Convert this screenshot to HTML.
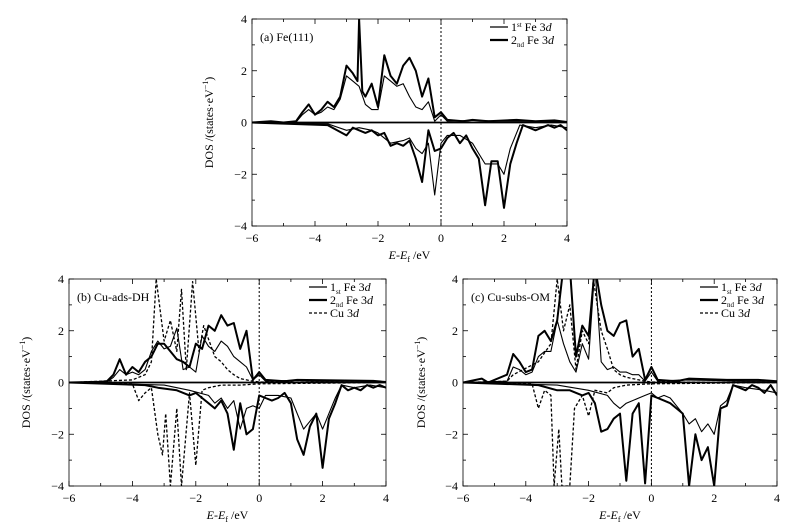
<!DOCTYPE html>
<html><head><meta charset="utf-8"><style>
body{margin:0;background:#fff}
svg{display:block;font-family:"Liberation Serif",serif}
</style></head><body>
<svg id="fig" width="794" height="529" viewBox="0 0 794 529"></svg>
<script>
const xTicks=[-6,-4,-2,0,2,4];
const yTicks=[-4,-2,0,2,4];
// Panel (a) Fe(111)
const aFe1Up=[[-6,0],[-4.6,0.02],[-4.4,0.3],[-4.2,0.5],[-4,0.3],[-3.8,0.4],[-3.6,0.6],[-3.4,0.5],[-3.2,0.9],[-3,1.8],[-2.8,1.6],[-2.6,1.4],[-2.4,0.7],[-2.2,0.5],[-2,0.5],[-1.8,1.8],[-1.6,1.6],[-1.4,1.4],[-1.2,1.5],[-1,1.0],[-0.8,0.6],[-0.6,0.5],[-0.4,0.8],[-0.2,0.05],[0,0.3],[0.2,0.05],[1,0.08],[2,0.05],[3,0.05],[4,0.03]];
const aFe2Up=[[-6,0],[-5.4,0.05],[-5,0],[-4.6,0.05],[-4.4,0.4],[-4.2,0.7],[-4,0.3],[-3.8,0.5],[-3.6,0.8],[-3.4,0.6],[-3.2,1.0],[-3,2.2],[-2.8,1.9],[-2.65,1.6],[-2.6,4.0],[-2.5,1.2],[-2.4,1.0],[-2.2,1.5],[-2,0.6],[-1.8,2.6],[-1.6,1.8],[-1.4,1.5],[-1.2,2.2],[-1,2.5],[-0.8,2.0],[-0.6,1.0],[-0.4,1.7],[-0.2,0.2],[0,0.4],[0.2,0.1],[0.7,0.05],[1,0.1],[1.5,0.05],[2.4,0.1],[3,0.05],[3.6,0.08],[4,0.02]];
const aFe1Dn=[[-6,0],[-3.6,-0.05],[-3,-0.3],[-2.6,-0.2],[-2.2,-0.3],[-2,-0.4],[-1.6,-0.8],[-1.2,-0.7],[-1,-0.6],[-0.8,-1.0],[-0.6,-1.2],[-0.4,-0.8],[-0.2,-2.8],[0,-0.8],[0.2,-0.5],[0.6,-0.5],[1,-0.8],[1.2,-1.2],[1.4,-1.6],[1.8,-1.6],[2,-2.0],[2.2,-1.0],[2.5,-0.1],[3,-0.2],[3.5,-0.1],[4,-0.2]];
const aFe2Dn=[[-6,0],[-3.6,-0.1],[-3,-0.5],[-2.8,-0.2],[-2.6,-0.3],[-2.4,-0.4],[-2.2,-0.3],[-2,-0.5],[-1.8,-0.4],[-1.6,-0.9],[-1.4,-0.8],[-1.2,-0.9],[-1,-0.7],[-0.8,-1.4],[-0.6,-2.3],[-0.4,-0.3],[-0.2,-1.1],[0,-1.0],[0.2,-0.6],[0.4,-0.4],[0.6,-0.8],[0.8,-0.5],[1,-1.0],[1.2,-1.4],[1.4,-3.2],[1.6,-1.5],[1.8,-1.5],[2,-3.3],[2.2,-1.6],[2.4,-0.8],[2.6,-0.1],[2.8,-0.2],[3,-0.3],[3.2,-0.2],[3.4,-0.1],[3.6,-0.2],[3.8,-0.1],[4,-0.3]];
// Panel (b) Cu-ads-DH
const bFe1Up=[[-6,0],[-4.8,0.02],[-4.6,0.2],[-4.4,0.5],[-4.2,0.3],[-4,0.4],[-3.8,0.3],[-3.6,0.5],[-3.4,1.2],[-3.2,1.6],[-3,1.3],[-2.8,1.4],[-2.6,2.1],[-2.4,0.5],[-2.2,0.6],[-2,0.4],[-1.8,1.8],[-1.6,1.4],[-1.4,1.2],[-1.2,1.6],[-1,1.4],[-0.8,1.0],[-0.6,0.8],[-0.4,0.6],[-0.2,0.1],[0,0.3],[0.2,0.05],[1,0.08],[2,0.05],[3,0.05],[4,0.03]];
const bFe2Up=[[-6,0],[-5,0.03],[-4.8,0.05],[-4.6,0.3],[-4.4,0.9],[-4.2,0.3],[-4,0.6],[-3.8,0.4],[-3.6,0.8],[-3.4,1.0],[-3.2,1.5],[-3,1.5],[-2.8,1.2],[-2.6,0.9],[-2.4,0.8],[-2.2,0.6],[-2,1.5],[-1.8,1.3],[-1.6,2.2],[-1.4,2.0],[-1.2,2.6],[-1,2.2],[-0.8,2.3],[-0.6,1.3],[-0.4,2.0],[-0.2,0.1],[0,0.4],[0.2,0.1],[0.8,0.05],[1.2,0.1],[2.4,0.08],[3.6,0.06],[4,0.02]];
const bCuUp=[[-6,0],[-4,0.1],[-3.6,0.3],[-3.4,0.8],[-3.25,4.0],[-3,1.6],[-2.8,2.4],[-2.6,1.2],[-2.45,3.6],[-2.3,0.5],[-2.1,3.9],[-1.9,1.2],[-1.75,2.2],[-1.4,1.0],[-1.2,0.8],[-1,0.5],[-0.8,0.3],[-0.6,0.15],[-0.4,0.1],[-0.2,0.05],[0,0.02],[4,0]];
const bFe1Dn=[[-6,0],[-3,-0.1],[-2.2,-0.3],[-1.6,-0.5],[-1.4,-0.8],[-1.2,-0.6],[-1,-1.0],[-0.8,-0.7],[-0.6,-1.8],[-0.4,-1.0],[-0.2,-0.9],[0,-1.0],[0.2,-0.5],[0.6,-0.5],[1,-0.6],[1.2,-1.2],[1.4,-1.8],[1.6,-1.5],[1.8,-1.2],[2,-1.8],[2.2,-1.2],[2.4,-0.6],[2.6,-0.1],[3,-0.2],[3.5,-0.1],[4,-0.2]];
const bFe2Dn=[[-6,0],[-3.6,-0.1],[-3.2,-0.2],[-2.6,-0.3],[-2.2,-0.5],[-2,-0.4],[-1.8,-0.6],[-1.6,-0.8],[-1.4,-1.0],[-1.2,-0.7],[-1,-1.2],[-0.8,-2.6],[-0.6,-0.8],[-0.4,-2.0],[-0.2,-1.8],[0,-0.5],[0.2,-0.6],[0.4,-0.7],[0.6,-0.6],[0.8,-0.4],[1,-0.8],[1.2,-2.2],[1.4,-2.8],[1.6,-1.7],[1.8,-1.2],[2,-3.3],[2.2,-1.4],[2.4,-0.8],[2.6,-0.1],[2.8,-0.3],[3,-0.2],[3.2,-0.3],[3.4,-0.1],[3.6,-0.2],[3.8,-0.1],[4,-0.2]];
const bCuDn=[[-6,0],[-4,-0.05],[-3.8,-0.7],[-3.6,-0.4],[-3.4,-0.2],[-3.2,-2.0],[-3.05,-2.8],[-2.95,-1.2],[-2.8,-4.0],[-2.6,-1.0],[-2.45,-4.0],[-2.2,-0.4],[-2,-3.2],[-1.8,-0.3],[-1.6,-0.2],[-1.4,-0.15],[-1.2,-0.1],[-0.6,-0.1],[0,-0.05],[4,0]];
// Panel (c) Cu-subs-OM
const cFe1Up=[[-6,0],[-4.6,0.05],[-4.4,0.6],[-4.2,0.5],[-4,0.3],[-3.8,0.4],[-3.6,1.0],[-3.4,1.2],[-3.2,1.2],[-3,2.4],[-2.8,1.5],[-2.6,0.8],[-2.4,0.4],[-2.2,1.5],[-2,0.9],[-1.8,4.5],[-1.6,0.8],[-1.4,0.5],[-1.2,0.6],[-1,0.4],[-0.8,0.4],[-0.6,0.3],[-0.4,0.3],[-0.2,0.05],[0,0.4],[0.2,0.05],[1,0.1],[2,0.08],[3,0.05],[4,0.05]];
const cFe2Up=[[-6,0],[-5.4,0.15],[-5.2,0],[-4.6,0.3],[-4.4,1.1],[-4.2,0.8],[-4,0.4],[-3.8,0.5],[-3.6,1.8],[-3.4,2.0],[-3.2,1.6],[-3,2.4],[-2.8,4.5],[-2.6,4.5],[-2.4,1.0],[-2.2,2.2],[-2,1.8],[-1.8,4.5],[-1.6,3.0],[-1.4,2.0],[-1.2,1.8],[-1,2.3],[-0.8,2.4],[-0.6,1.0],[-0.4,1.3],[-0.2,0.1],[0,0.6],[0.2,0.1],[0.8,0.05],[1.2,0.15],[2.4,0.1],[3.4,0.1],[4,0.05]];
const cCuUp=[[-6,0],[-4.6,0.05],[-4.4,0.3],[-3.6,0.8],[-3.2,1.5],[-3,4.0],[-2.8,2.0],[-2.6,3.0],[-2.4,0.5],[-2.2,2.0],[-2,1.5],[-1.85,4.0],[-1.6,2.0],[-1.4,1.3],[-1.2,0.5],[-1,0.3],[-0.8,0.2],[-0.6,0.15],[-0.4,0.1],[-0.2,0.05],[0,0.02],[4,0]];
const cFe1Dn=[[-6,0],[-3,-0.1],[-2,-0.3],[-1.4,-0.5],[-1.2,-0.8],[-1,-1.0],[-0.8,-0.8],[-0.6,-0.7],[-0.4,-0.6],[-0.2,-0.5],[0,-0.4],[0.2,-0.6],[0.4,-0.5],[0.6,-0.6],[0.8,-0.9],[1,-1.2],[1.2,-1.6],[1.4,-1.4],[1.6,-1.9],[1.8,-1.6],[2,-2.0],[2.2,-0.9],[2.4,-0.7],[2.6,-0.1],[3,-0.2],[3.6,-0.3],[4,-0.4]];
const cFe2Dn=[[-6,0],[-3.6,-0.1],[-3,-0.3],[-2.6,-0.3],[-2.2,-0.5],[-2,-0.4],[-1.8,-0.8],[-1.6,-1.9],[-1.4,-1.8],[-1.2,-1.4],[-1,-1.2],[-0.8,-3.8],[-0.6,-1.2],[-0.4,-0.8],[-0.2,-3.9],[0,-0.5],[0.2,-0.6],[0.4,-0.7],[0.6,-0.8],[0.8,-1.0],[1,-1.2],[1.2,-4.0],[1.4,-2.0],[1.6,-3.0],[1.8,-2.5],[2,-4.0],[2.2,-1.0],[2.4,-0.9],[2.6,-0.1],[2.8,-0.2],[3,-0.3],[3.2,-0.1],[3.4,-0.2],[3.6,-0.4],[3.8,-0.1],[4,-0.5]];
const cCuDn=[[-6,0],[-3.8,-0.05],[-3.6,-1.0],[-3.4,-0.3],[-3.2,-0.5],[-3.1,-4.0],[-2.95,-1.8],[-2.85,-4.0],[-2.6,-4.0],[-2.45,-1.0],[-2.2,-0.5],[-2,-1.3],[-1.8,-0.3],[-1.4,-0.4],[-1.2,-0.2],[-0.8,-0.1],[0,-0.05],[4,0]];

const panels=[
 {id:'a',label:'(a)  Fe(111)',x0:252,x1:567,y0:19,y1:226,ytx:213,fe1:[aFe1Up,aFe1Dn],fe2:[aFe2Up,aFe2Dn],cu:null},
 {id:'b',label:'(b) Cu-ads-DH',x0:69,x1:386,y0:279,y1:486,ytx:30,fe1:[bFe1Up,bFe1Dn],fe2:[bFe2Up,bFe2Dn],cu:[bCuUp,bCuDn]},
 {id:'c',label:'(c) Cu-subs-OM',x0:463,x1:777,y0:279,y1:486,ytx:425,fe1:[cFe1Up,cFe1Dn],fe2:[cFe2Up,cFe2Dn],cu:[cCuUp,cCuDn]}
];
const NS='http://www.w3.org/2000/svg';
const svg=document.getElementById('fig');
function mk(tag,attrs,parent,txt){const e=document.createElementNS(NS,tag);for(const k in attrs)e.setAttribute(k,attrs[k]);if(txt!==undefined)e.textContent=txt;(parent||svg).appendChild(e);return e;}
panels.forEach(p=>{
 const g=mk('g',{});
 
 
 const sx=v=>p.x0+(v+6)/10*(p.x1-p.x0);
 const sy=v=>p.y0+(4-v)/8*(p.y1-p.y0);
 const defs=mk('defs',{},g);
 const cp=mk('clipPath',{id:'clip'+p.id},defs);
 mk('rect',{x:p.x0,y:p.y0,width:p.x1-p.x0,height:p.y1-p.y0},cp);
 const frame=mk('rect',{x:p.x0,y:p.y0,width:p.x1-p.x0,height:p.y1-p.y0,fill:'none',stroke:'#000','stroke-width':0.8},g);
 
 
 for(let v=-6;v<=4;v++){const L=v%2===0?5:3;mk('line',{x1:sx(v),x2:sx(v),y1:p.y1,y2:p.y1-L,stroke:'#000','stroke-width':0.8},g);mk('line',{x1:sx(v),x2:sx(v),y1:p.y0,y2:p.y0+L,stroke:'#000','stroke-width':0.8},g);}
 for(let v=-4;v<=4;v++){const L=v%2===0?5:3;mk('line',{x1:p.x0,x2:p.x0+L,y1:sy(v),y2:sy(v),stroke:'#000','stroke-width':0.8},g);mk('line',{x1:p.x1,x2:p.x1-L,y1:sy(v),y2:sy(v),stroke:'#000','stroke-width':0.8},g);}
 xTicks.forEach(v=>{const t=mk('text',{x:sx(v),y:p.y1+16,'text-anchor':'middle','font-size':12},g,v<0?'\u2212'+(-v):String(v));});
 yTicks.forEach(v=>{const t=mk('text',{x:p.x0-5,y:sy(v)+4,'text-anchor':'end','font-size':12},g,v<0?'\u2212'+(-v):String(v));});
 const xt=mk('text',{x:(p.x0+p.x1)/2,y:p.y1+33,'text-anchor':'middle','font-size':12},g);
 
 xt.innerHTML='<tspan font-style="italic">E</tspan>-<tspan font-style="italic">E</tspan><tspan font-size="8" dy="3">f</tspan><tspan dy="-3"> /eV</tspan>';
 const yt=mk('text',{x:0,y:0,'text-anchor':'middle','font-size':12,transform:`translate(${p.ytx},${(p.y0+p.y1)/2}) rotate(-90)`},g);
 
 yt.innerHTML='DOS /(states·eV<tspan font-size="8" dy="-5">−1</tspan><tspan dy="5">)</tspan>';
 const lb=mk('text',{x:p.x0+8,y:p.y0+22,'font-size':12},g,p.label);
 
 const cg=mk('g',{'clip-path':`url(#clip${p.id})`},g);
 const z=mk('line',{x1:p.x0,x2:p.x1,y1:sy(0),y2:sy(0),stroke:'#000','stroke-width':1.8},cg);
 
 const fl=mk('line',{x1:sx(0),x2:sx(0),y1:p.y0,y2:p.y1,stroke:'#000','stroke-width':1,'stroke-dasharray':'2,2'},cg);
 
 const draw=(arr,w,dash,name)=>{const d=arr.map((q,i)=>(i?'L':'M')+sx(q[0]).toFixed(1)+','+sy(q[1]).toFixed(1)).join('');const e=mk('path',{d:d,fill:'none',stroke:'#000','stroke-width':w,'stroke-dasharray':dash||'none','stroke-linejoin':'round'},cg);};
 if(p.cu){draw(p.cu[0],1.3,'3,2','cu-3d-up');draw(p.cu[1],1.3,'3,2','cu-3d-down');}
 draw(p.fe1[0],1.1,null,'fe1-3d-up');draw(p.fe1[1],1.1,null,'fe1-3d-down');
 draw(p.fe2[0],2,null,'fe2-3d-up');draw(p.fe2[1],2,null,'fe2-3d-down');
 const lx=p.x1-77;const items=[['1','st',1.3,null],['2','nd',2.2,null]];if(p.cu)items.push(['Cu','',1.3,'3,2']);
 items.forEach((it,i)=>{const y=p.y0+8+i*13;const lg=mk('g',{},g);
  mk('line',{x1:lx,x2:lx+18,y1:y,y2:y,stroke:'#000','stroke-width':it[2],'stroke-dasharray':it[3]||'none'},lg);
  const t=mk('text',{x:lx+21,y:y+4,'font-size':12},lg);
  t.innerHTML=it[0]==='Cu'?'Cu 3<tspan font-style="italic">d</tspan>':it[0]+'<tspan font-size="7" dy="'+(p.id==='a'&&i===0?-4:3)+'">'+it[1]+'</tspan><tspan dy="'+(p.id==='a'&&i===0?4:-3)+'"> Fe 3</tspan><tspan font-style="italic">d</tspan>';
 });
});
</script>
</body></html>
